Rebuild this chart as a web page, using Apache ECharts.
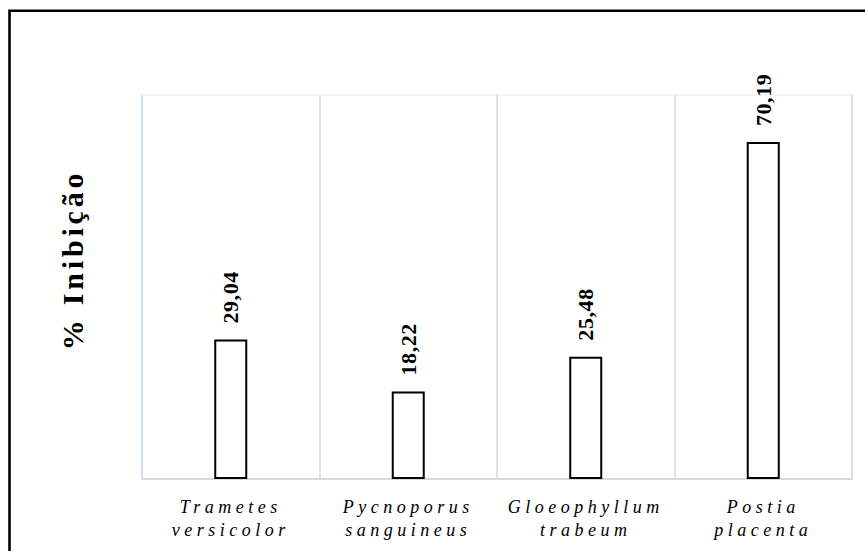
<!DOCTYPE html>
<html>
<head>
<meta charset="utf-8">
<script src="https://cdn.jsdelivr.net/npm/echarts@6/dist/echarts.min.js"></script>
<style>
  html, body { margin: 0; padding: 0; background: #fff; }
  #chart { width: 865px; height: 551px; }
  #chart text[style*="italic"] { letter-spacing: 4.5px; }
  #chart text[style*="30px"] { letter-spacing: 3.8px; }
  #chart text[style*="22px"] { letter-spacing: 0.6px; }
</style>
</head>
<body>
<div id="chart"></div>
<script>
const categories = ['Trametes versicolor', 'Pycnoporus sanguineus', 'Gloeophyllum trabeum', 'Postia placenta'];
const values = [29.04, 18.22, 25.48, 70.19];
const yAxisName = '% Inibição';
const serif = "'Liberation Serif', 'Times New Roman', Times, serif";

const chart = echarts.init(document.getElementById('chart'), null, { renderer: 'svg' });
chart.setOption({
  animation: false,
  backgroundColor: '#ffffff',
  grid: {
    left: 142, right: 13, top: 95, bottom: 72,
    show: true, borderColor: '#f0f1f8', borderWidth: 1.5, backgroundColor: '#ffffff'
  },
  graphic: [{
    type: 'rect', silent: true, z: 100,
    shape: { x: 9.5, y: 10.7, width: 900, height: 600 },
    style: { fill: 'none', stroke: '#000', lineWidth: 2.6 }
  }],
  xAxis: {
    type: 'category',
    data: categories,
    axisTick: { show: false },
    axisLine: { lineStyle: { color: '#d9d9d9', width: 2 } },
    splitLine: { show: true, interval: 0, lineStyle: { color: ['#c9d6ee', '#d9d9d9', '#d9d9d9', '#d9d9d9', '#c9d6ee'], width: 1.5 } },
    axisLabel: {
      interval: 0, margin: 16,
      fontFamily: serif, fontStyle: 'italic', fontSize: 18,
      color: '#000', lineHeight: 23,
      formatter: v => v.replace(' ', '\n')
    }
  },
  yAxis: {
    type: 'value', min: 0, max: 80,
    axisLabel: { show: false }, axisTick: { show: false },
    axisLine: { show: false }, splitLine: { show: false },
    name: yAxisName, nameLocation: 'middle', nameRotate: 90, nameGap: 55,
    nameTextStyle: { fontFamily: serif, fontWeight: 'bold', fontSize: 30, color: '#000', padding: [0, 0, 0, 54] }
  },
  series: [{
    type: 'bar',
    data: values,
    barWidth: 33,
    itemStyle: { color: '#ffffff', borderColor: '#000', borderWidth: 2 },
    label: {
      show: true, position: 'top', rotate: 90, align: 'left', verticalAlign: 'middle',
      distance: 16,
      fontFamily: serif, fontWeight: 'bold', fontSize: 22, color: '#000',
      formatter: p => p.value.toFixed(2).replace('.', ',')
    }
  }]
});
</script>
</body>
</html>
